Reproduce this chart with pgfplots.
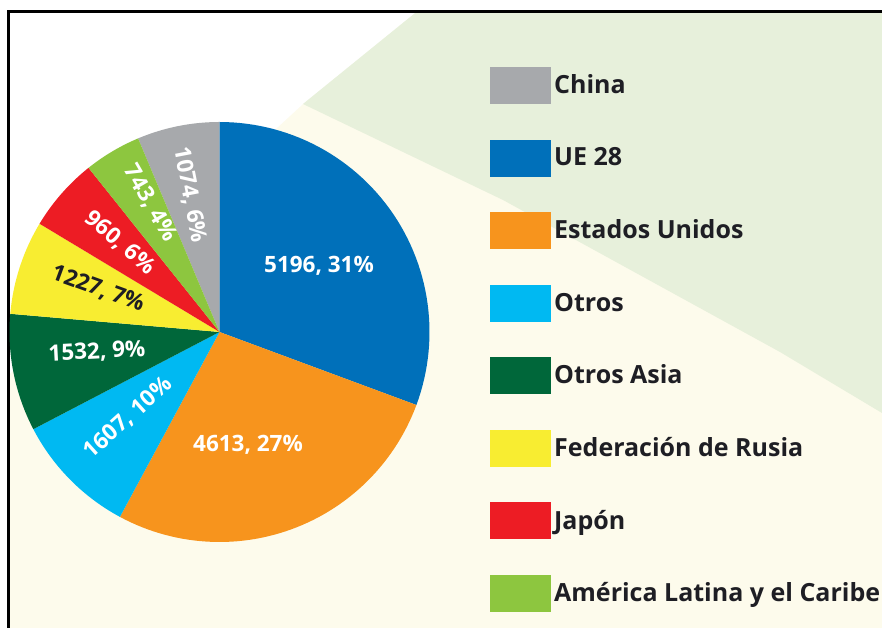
\documentclass[border=0pt]{standalone}
\usepackage{pgfplots}
\usepackage{pgfplotstable}
\pgfplotsset{compat=1.18}
\usepackage{fontspec}
\setmainfont{Open Sans}

\definecolor{cChina}{HTML}{A7A9AC}
\definecolor{cUE}{HTML}{0070BA}
\definecolor{cUS}{HTML}{F7941D}
\definecolor{cOtros}{HTML}{00B9F2}
\definecolor{cAsia}{HTML}{00673A}
\definecolor{cRus}{HTML}{F8ED31}
\definecolor{cJap}{HTML}{ED1C24}
\definecolor{cLat}{HTML}{8DC63F}
\definecolor{bgGreen}{HTML}{E7F0DB}
\definecolor{bgCream}{HTML}{FDFBEC}
\definecolor{txt}{HTML}{1E1E24}

\pgfplotstableread{
name value
China 1074
UE28 5196
EEUU 4613
Otros 1607
OtrosAsia 1532
Rusia 1227
Japon 960
ALC 743
}\pietable

\begin{document}
\begin{tikzpicture}
% totals (in thousands to stay in pgfmath range)
\gdef\pieT{0}
\foreach \i in {0,...,7}{%
  \pgfplotstablegetelem{\i}{value}\of\pietable
  \pgfmathsetmacro\tmp{\pieT+\pgfplotsretval/1000}%
  \xdef\pieT{\tmp}}
\pgfplotstablegetelem{0}{value}\of\pietable
\pgfmathsetmacro\st{90+360*(\pgfplotsretval/1000)/\pieT}
\xdef\cur{\st}
\foreach \i/\nm in {0/A,1/B,2/C,3/D,4/E,5/F,6/G,7/H}{%
  \pgfplotstablegetelem{\i}{value}\of\pietable
  \expandafter\xdef\csname s\nm\endcsname{\cur}%
  \pgfmathsetmacro\nx{\cur-360*(\pgfplotsretval/1000)/\pieT}%
  \expandafter\xdef\csname e\nm\endcsname{\nx}%
  \xdef\cur{\nx}}

\begin{axis}[
  scale only axis, width=882pt, height=628pt,
  xmin=0, xmax=882, ymin=0, ymax=628,
  hide axis, clip=false,
  legend style={at={(490/882,561/628)}, anchor=north west, draw=none, fill=none,
    inner sep=0pt, row sep=35.5pt, column sep=3pt,
    nodes={inner sep=0pt, text=txt},
    font=\fontsize{25}{28}\selectfont\bfseries},
  legend cell align=left,
  legend image code/.code={\fill[#1] (0pt,-19pt) rectangle (61pt,18pt);},
  every axis plot/.append style={draw=none, samples=60},
]
% background
\fill[bgCream] (axis cs:8.5,0) rectangle (axis cs:882,616.5);
\fill[white] (axis cs:8.5,616.5) -- (axis cs:417,616.5) -- (axis cs:303,524) -- (axis cs:8.5,253) -- cycle;
\fill[bgGreen] (axis cs:417,616.5) -- (axis cs:882,616.5) -- (axis cs:882,215) -- (axis cs:780,276) -- (axis cs:503,428) -- (axis cs:303,524) -- cycle;
\draw[line width=2.2pt] (axis cs:8.5,0) -- (axis cs:8.5,616.5) -- (axis cs:882,616.5);

% slices
\addplot[fill=cChina, domain=\eA:\sA] ({219.5+210*cos(x)},{296+210*sin(x)}) -- (axis cs:219.5,296) -- cycle;
\addlegendentry{China}
\addplot[fill=cUE, domain=\eB:\sB] ({219.5+210*cos(x)},{296+210*sin(x)}) -- (axis cs:219.5,296) -- cycle;
\addlegendentry{UE 28}
\addplot[fill=cUS, domain=\eC:\sC] ({219.5+210*cos(x)},{296+210*sin(x)}) -- (axis cs:219.5,296) -- cycle;
\addlegendentry{Estados Unidos}
\addplot[fill=cOtros, domain=\eD:\sD] ({219.5+210*cos(x)},{296+210*sin(x)}) -- (axis cs:219.5,296) -- cycle;
\addlegendentry{Otros}
\addplot[fill=cAsia, domain=\eE:\sE] ({219.5+210*cos(x)},{296+210*sin(x)}) -- (axis cs:219.5,296) -- cycle;
\addlegendentry{Otros Asia}
\addplot[fill=cRus, domain=\eF:\sF] ({219.5+210*cos(x)},{296+210*sin(x)}) -- (axis cs:219.5,296) -- cycle;
\addlegendentry{Federación de Rusia}
\addplot[fill=cJap, domain=\eG:\sG] ({219.5+210*cos(x)},{296+210*sin(x)}) -- (axis cs:219.5,296) -- cycle;
\addlegendentry{Japón}
\addplot[fill=cLat, domain=\eH:\sH] ({219.5+210*cos(x)},{296+210*sin(x)}) -- (axis cs:219.5,296) -- cycle;
\addlegendentry{América Latina y el Caribe}

% slice labels
\begin{scope}[every node/.style={font=\fontsize{22.5}{26}\selectfont\bfseries, text=white, inner sep=0pt}]
\node at (axis cs:319,362) {5196, 31\%};
\node at (axis cs:248,183) {4613, 27\%};
\node[rotate=42] at (axis cs:128,210) {1607, 10\%};
\node[rotate=3] at (axis cs:97,276) {1532, 9\%};
\node[rotate=-20, text=txt] at (axis cs:98,339) {1227, 7\%};
\node[rotate=-41] at (axis cs:120,385) {960, 6\%};
\node[rotate=-60] at (axis cs:150,425) {743, 4\%};
\node[rotate=-79] at (axis cs:190,433) {1074, 6\%};
\end{scope}
\end{axis}
\pgfresetboundingbox
\path[use as bounding box] (0,0) rectangle (882pt,628pt);
\end{tikzpicture}
\end{document}
